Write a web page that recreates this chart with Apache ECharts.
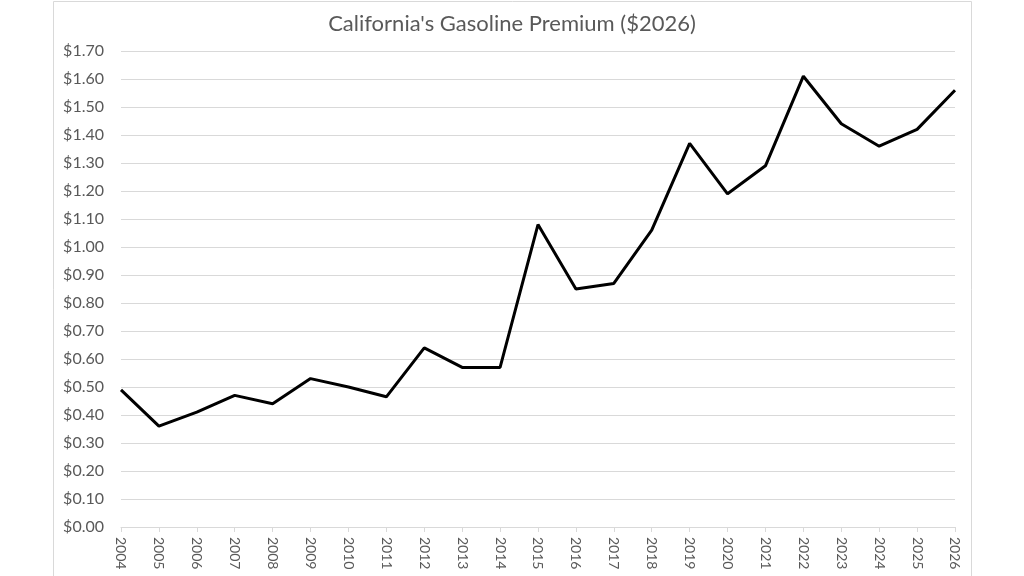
<!DOCTYPE html>
<html>
<head>
<meta charset="utf-8">
<script src="https://cdn.jsdelivr.net/npm/echarts@6/dist/echarts.min.js"></script>
<style>
  html, body { margin: 0; padding: 0; background: #fff; }
  #chart { width: 1024px; height: 576px; }
</style>
</head>
<body>
<div id="chart"></div>
<script>
// years on the x axis
const years = ['2004', '2005', '2006', '2007', '2008', '2009', '2010', '2011', '2012', '2013', '2014',
  '2015', '2016', '2017', '2018', '2019', '2020', '2021', '2022', '2023', '2024', '2025', '2026'];

// premium in $2026 per gallon
const premium = [0.49, 0.36, 0.41, 0.47, 0.44, 0.53, 0.50, 0.465, 0.64, 0.57, 0.57,
  1.08, 0.85, 0.87, 1.06, 1.37, 1.19, 1.29, 1.61, 1.44, 1.36, 1.42, 1.56];

const yMin = 0;
const yMax = 1.7;
const yStep = 0.1;

const chart = echarts.init(document.getElementById('chart'));

const textColor = '#595959';
const lineGray = '#d9d9d9';

const option = {
  backgroundColor: '#fff',
  animation: false,
  title: {
    text: "California's Gasoline Premium ($2026)",
    left: 'center',
    top: 8,
    textStyle: { fontFamily: 'Lato', fontSize: 22, fontWeight: 'normal', color: textColor }
  },
  graphic: [
    {
      type: 'rect',
      shape: { x: 53.5, y: 1.5, width: 918, height: 600 },
      style: { fill: 'none', stroke: lineGray, lineWidth: 1 },
      silent: true
    }
  ],
  grid: { left: 121, right: 69, top: 51, bottom: 49 },
  xAxis: {
    type: 'category',
    data: years,
    boundaryGap: false,
    axisLine: { lineStyle: { color: lineGray, width: 1 } },
    axisTick: { show: true, length: 5, lineStyle: { color: lineGray } },
    axisLabel: {
      rotate: -90,
      interval: 0,
      margin: 10,
      color: textColor,
      fontFamily: 'Lato',
      fontSize: 14
    },
    splitLine: { show: false }
  },
  yAxis: {
    type: 'value',
    min: yMin,
    max: yMax,
    interval: yStep,
    axisLine: { show: false },
    axisTick: { show: false },
    axisLabel: {
      margin: 17,
      color: textColor,
      fontFamily: 'Lato',
      fontSize: 16,
      formatter: v => '$' + v.toFixed(2)
    },
    splitLine: { lineStyle: { color: lineGray, width: 1 } }
  },
  series: [
    {
      type: 'line',
      data: premium,
      symbol: 'none',
      lineStyle: { color: '#000', width: 3 }
    }
  ]
};

chart.setOption(option);
</script>
</body>
</html>
